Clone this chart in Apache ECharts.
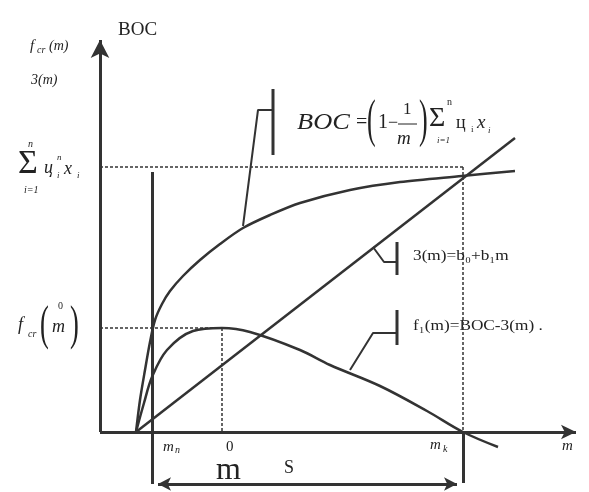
<!DOCTYPE html>
<html>
<head>
<meta charset="utf-8">
<script src="https://cdn.jsdelivr.net/npm/echarts@6/dist/echarts.min.js"></script>
<style>
  html, body { margin: 0; padding: 0; background: #fff; }
  #chart { width: 589px; height: 492px; }
</style>
</head>
<body>
<div id="chart"></div>
<script>
// BOC(m) (x: m, y: value, origin at the axes crossing)
const bocM = [36, 40, 45, 50, 55, 62, 70, 83, 100, 120, 143, 170, 200, 250, 300, 362, 415]
const bocV = [0, 32, 62, 90, 112, 128, 141, 156, 172, 188, 204, 217, 229, 242, 250, 256, 261]
// 3(m) = b0 + b1*m
const costM = [36, 415]
const costV = [0, 294]
// f1(m) = BOC - 3(m)
const profitM = [36, 44, 52, 67, 93, 122, 150, 200, 230, 280, 327, 363, 398]
const profitV = [0, 29, 55, 82, 101, 104, 100, 82, 67, 46, 21, 0, -15]
// marked points
const mN = 52
const mOpt = 122
const mK = 363
const sumLevel = 265
const crLevel = 104

const INK = '#333'
const FONT = '"Liberation Serif", "Times New Roman", serif'

var myChart = echarts.init(document.getElementById('chart'))

const zip = (xs, ys) => xs.map((x, i) => [x, ys[i]])

// callout leaders (hook + bar) next to each formula
const leaders = [
  [[143, 206], [158, 322], [172, 322]],
  [[273, 185], [284, 170], [297, 170]],
  [[250, 62], [273, 99], [297, 99]],
]
const bars = [
  [[173, 343], [173, 277]],
  [[297, 190], [297, 157]],
  [[297, 122], [297, 87]],
]

function polyline(name, pts, width) {
  return {
    name,
    type: 'line',
    data: pts,
    showSymbol: false,
    clip: false,
    silent: true,
    lineStyle: { color: INK, width: width },
  }
}

function seg(a, b, opts) {
  return [Object.assign({ coord: a, symbol: 'none' }, opts && opts[0]), Object.assign({ coord: b, symbol: 'none' }, opts && opts[1])]
}

// text piece at (x, y), left aligned, vertically centred
function t(text, x, y, size, italic, sx) {
  return {
    type: 'text',
    x: x,
    y: y,
    scaleX: sx || 1,
    silent: true,
    style: {
      text: text,
      font: (italic ? 'italic ' : '') + size + 'px ' + FONT,
      fill: '#222',
      align: 'left',
      verticalAlign: 'middle',
    },
  }
}

var option = {
  backgroundColor: '#fff',
  animation: false,
  grid: { left: 90, right: 0, top: 20, bottom: 0 },
  xAxis: {
    type: 'value',
    min: -10,
    max: 489,
    axisLine: { show: false },
    axisTick: { show: false },
    axisLabel: { show: false },
    splitLine: { show: false },
  },
  yAxis: {
    type: 'value',
    min: -60,
    max: 412,
    axisLine: { show: false },
    axisTick: { show: false },
    axisLabel: { show: false },
    splitLine: { show: false },
  },
  series: [
    {
      name: 'BOC',
      type: 'line',
      data: zip(bocM, bocV),
      smooth: 0.3,
      showSymbol: false,
      lineStyle: { color: INK, width: 2.5 },
    },
    {
      name: '3(m)',
      type: 'line',
      data: zip(costM, costV),
      showSymbol: false,
      lineStyle: { color: INK, width: 2.5 },
    },
    {
      name: 'f1(m)',
      type: 'line',
      data: zip(profitM, profitV),
      smooth: 0.35,
      showSymbol: false,
      clip: false,
      lineStyle: { color: INK, width: 2.5 },
    },
    {
      // dashed guides
      name: 'guides',
      type: 'line',
      data: [],
      markLine: {
        silent: true,
        animation: false,
        label: { show: false },
        lineStyle: { color: INK, width: 1.5, type: [3, 2] },
        data: [
          seg([0, sumLevel], [mK, sumLevel]),
          seg([mK, sumLevel], [mK, 0]),
          seg([0, crLevel], [mOpt, crLevel]),
          seg([mOpt, crLevel], [mOpt, 0]),
        ],
      },
    },
    {
      // axes and the bottom span
      name: 'frame',
      type: 'line',
      data: [],
      markLine: {
        silent: true,
        animation: false,
        label: { show: false },
        lineStyle: { color: INK, width: 3, type: 'solid' },
        data: [
          seg([0, 0], [0, 392], [null, { symbol: 'arrow', symbolSize: [14, 18] }]),
          seg([0, 0], [476, 0], [null, { symbol: 'arrow', symbolSize: [11, 15] }]),
          seg([mN, 260], [mN, -52]),
          seg([mK, 0], [mK, -51]),
          seg([mN + 6, -52], [mK - 6, -52], [{ symbol: 'arrow', symbolSize: [10, 13] }, { symbol: 'arrow', symbolSize: [10, 13] }]),
        ],
      },
    },
    polyline('lead1', leaders[0], 2),
    polyline('lead2', leaders[1], 2),
    polyline('lead3', leaders[2], 2),
    polyline('bar1', bars[0], 3),
    polyline('bar2', bars[1], 3),
    polyline('bar3', bars[2], 3),
  ],
  graphic: [
    t('BOC', 118, 30, 19, false),
    // f_cr(m), 3(m)
    t('f', 30, 46, 15, true),
    t('cr', 37, 50, 10, true),
    t('(m)', 49, 46, 14, true),
    t('3(m)', 31, 80, 14, true),
    // sum of u_i^n x_i
    t('n', 28, 144, 10, true),
    t('Σ', 18, 164, 34, false),
    t('i=1', 24, 190, 10, true),
    t('ц', 44, 168, 18, true),
    t('n', 57, 158, 9, true),
    t('i', 57, 176, 9, true),
    t('x', 64, 169, 18, true),
    t('i', 77, 176, 9, true),
    // f_cr(m over 0)
    t('f', 18, 325, 18, true),
    t('cr', 28, 334, 10, true),
    t('(', 40, 326, 48, false, 0.55),
    t('0', 58, 306, 10, false),
    t('m', 52, 327, 18, true),
    t(')', 70, 326, 48, false, 0.55),
    // BOC formula
    t('BOC', 297, 123, 24, true, 1.1),
    t('=', 356, 123, 20, false),
    t('(', 367, 122, 52, false, 0.5),
    t('1', 378, 123, 20, false),
    t('−', 388, 123, 18, false),
    t('1', 403, 110, 17, false),
    { type: 'line', silent: true, shape: { x1: 398, y1: 124, x2: 417, y2: 124 }, style: { stroke: '#222', lineWidth: 1 } },
    t('m', 397, 139, 19, true),
    t(')', 419, 122, 52, false, 0.5),
    t('n', 447, 102, 10, false),
    t('Σ', 429, 119, 28, false),
    t('i=1', 437, 141, 9, true),
    t('ц', 456, 123, 18, false),
    t('i', 471, 130, 9, false),
    t('x', 477, 123, 19, true),
    t('i', 488, 131, 9, true),
    // line and difference formulas
    t('3(m)=b₀+b₁m', 413, 256, 15, false, 1.15),
    t('f₁(m)=BOC-3(m) .', 413, 326, 15, false, 1.15),
    // axis labels
    t('m', 163, 447, 15, true),
    t('n', 175, 450, 10, true),
    t('0', 226, 447, 15, false),
    t('m', 430, 445, 15, true),
    t('k', 443, 449, 10, true),
    t('m', 562, 446, 15, true),
    t('m', 216, 471, 32, false),
    t('S', 284, 468, 18, false),
  ],
}

option && myChart.setOption(option)
window.addEventListener('resize', function () {
  myChart.resize()
})
</script>
</body>
</html>
